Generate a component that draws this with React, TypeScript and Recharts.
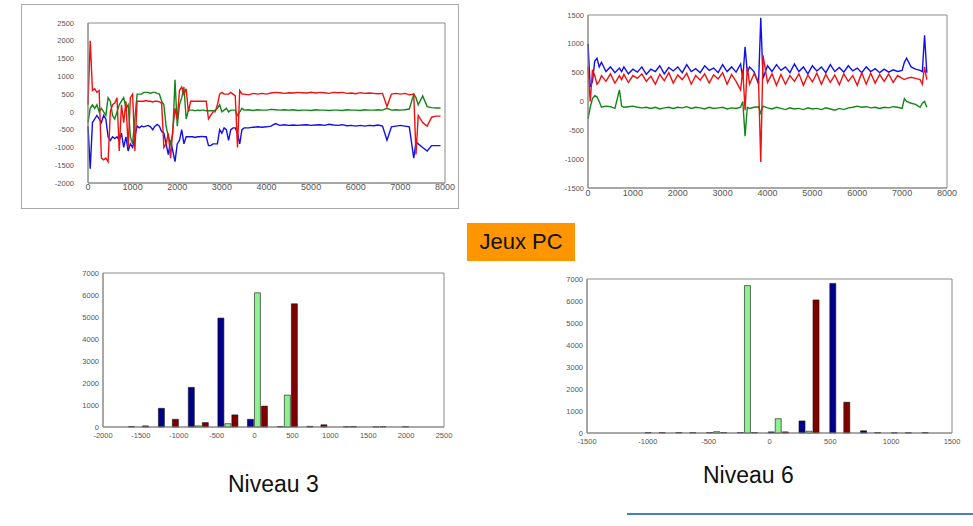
import { Bar, BarChart, Line, LineChart, ReferenceArea, XAxis, YAxis } from 'recharts'

// top left trace (niveau 3)
const TL_X = [
  0, 50, 100, 150, 200, 250, 300, 350, 400, 450,
  500, 550, 600, 650, 700, 750, 800, 850, 900, 950,
  1000, 1050, 1100, 1150, 1200, 1250, 1300, 1350, 1400, 1450,
  1500, 1550, 1600, 1650, 1700, 1750, 1800, 1850, 1900, 1950,
  2000, 2050, 2100, 2150, 2200, 2250, 2300, 2350, 2400, 2450,
  2500, 2550, 2600, 2650, 2700, 2750, 2800, 2850, 2900, 2950,
  3000, 3050, 3100, 3150, 3200, 3250, 3300, 3350, 3400, 3450,
  3500, 3600, 3700, 3800, 3900, 4000, 4100, 4200, 4300, 4400,
  4500, 4600, 4700, 4800, 4900, 5000, 5100, 5200, 5300, 5400,
  5500, 5600, 5700, 5800, 5900, 6000, 6100, 6200, 6300, 6400,
  6500, 6600, 6700, 6800, 6900, 7000, 7100, 7200, 7300, 7350,
  7400, 7500, 7600, 7700, 7800, 7900,
]
const TL_RED = [
  200, 2000, 600, 650, 550, 600, -1300, -1350, -1300, -1400,
  0, 200, 250, 400, -1100, 200, -300, 300, -1000, 400,
  500, -1100, 300, 300, 300, 300, 320, 300, 300, 280,
  300, 300, 280, 250, -1000, -900, -600, -1300, -500, 100,
  -200, 600, 700, 500, 650, 0, 300, 300, 300, 300,
  300, 300, 300, 300, -200, -100, 0, 0, 200, 500,
  550, 500, 500, 500, 550, 500, 450, -1000, 600, 500,
  500, 480, 520, 500, 520, 500, 530, 550, 540, 520,
  540, 530, 550, 540, 530, 550, 530, 550, 540, 520,
  550, 540, 550, 520, 530, 510, 540, 520, 530, 520,
  510, 520, 150, 500, 520, 500, 520, 480, 500, -1200,
  -100, -300, -400, -150, -120, -120,
]
const TL_GREEN = [
  -300, 100, 200, 100, 200, 0, 100, 0, -100, 400,
  300, -100, -200, 0, 200, 300, 400, 100, 200, -700,
  -900, -200, 500, 500, 500, 550, 550, 550, 520, 550,
  550, 520, 500, 300, 200, -400, -700, -900, -600, 900,
  -400, 200, 400, 700, -200, 50, 50, 50, 30, 50,
  40, 50, 50, 30, 30, 30, 30, 50, 100, 200,
  0, 50, 100, 0, 50, 50, 50, -100, 0, 100,
  50, 60, 40, 60, 50, 50, 70, 60, 50, 60,
  50, 60, 40, 50, 50, 40, 60, 50, 50, 40,
  50, 50, 40, 60, 50, 50, 40, 60, 50, 50,
  60, 50, 100, 50, 60, 50, 60, 80, 500, 400,
  200, 450, 150, 120, 110, 110,
]
const TL_BLUE = [
  -400, -1600, -300, -200, -100, -200, -300, -100, -200, -700,
  -800, -700, -750, -700, -800, -600, -1000, -700, -1100, -900,
  -1000, -700, -400, -450, -400, -420, -400, -380, -420, -500,
  -400, -350, -400, -550, -600, -900, -1200, -800, -1100, -1400,
  -900, -800, -500, -900, -700, -700, -700, -700, -720, -700,
  -700, -690, -700, -700, -950, -950, -900, -900, -900, -500,
  -600, -450, -500, -800, -500, -450, -450, -600, -900, -500,
  -450, -450, -430, -420, -430, -420, -400, -330, -380, -360,
  -380, -370, -380, -370, -360, -380, -370, -360, -380, -350,
  -370, -380, -360, -390, -380, -400, -380, -400, -380, -390,
  -370, -400, -800, -420, -400, -380, -400, -420, -1300, -850,
  -900, -1000, -1100, -950, -950, -950,
]

// top right trace (niveau 6)
const TR_X = [
  0, 50, 100, 150, 200, 250, 300, 400, 500, 600,
  700, 750, 800, 900, 1000, 1100, 1200, 1300, 1400, 1500,
  1600, 1700, 1800, 1900, 2000, 2100, 2200, 2300, 2400, 2500,
  2600, 2700, 2800, 2900, 3000, 3100, 3200, 3300, 3400, 3450,
  3500, 3550, 3600, 3700, 3800, 3850, 3900, 4000, 4100, 4200,
  4300, 4400, 4500, 4600, 4700, 4800, 4900, 5000, 5100, 5200,
  5300, 5400, 5500, 5600, 5700, 5800, 5900, 6000, 6100, 6200,
  6300, 6400, 6500, 6600, 6700, 6800, 6900, 7000, 7050, 7100,
  7200, 7300, 7400, 7450, 7500, 7550,
]
const TR_RED = [
  600, 0, 550, 450, 300, 350, 450, 350, 480, 320,
  450, 380, 470, 330, 450, 400, 480, 350, 440, 300,
  470, 360, 500, 320, 460, 380, 490, 300, 450, 370,
  480, 320, 460, 390, 500, 300, 470, 350, 200, 550,
  -150, 600, 300, 480, 350, -1050, 800, 330, 480, 280,
  470, 300, 450, 350, 480, 280, 460, 340, 490, 300,
  470, 330, 460, 290, 480, 350, 450, 280, 500, 300,
  490, 320, 470, 350, 480, 330, 450, 400, 380, 400,
  420, 400, 380, 300, 600, 380,
]
const TR_BLUE = [
  1000, 250, 350, 700, 750, 600, 680, 520, 600, 500,
  580, 520, 600, 480, 560, 510, 600, 470, 560, 520,
  620, 480, 590, 530, 600, 500, 640, 520, 570, 500,
  620, 540, 580, 500, 640, 520, 600, 510, 650, 400,
  950, 500, 600, 520, 300, 1450, 400, 620, 520, 640,
  540, 600, 500, 650, 520, 600, 480, 620, 530, 600,
  500, 640, 520, 590, 510, 620, 530, 580, 500, 600,
  520, 570, 500, 560, 510, 550, 520, 540, 680, 750,
  600, 560, 540, 520, 1150, 500,
]
const TR_GREEN = [
  -300, -100, 50, 100, 80, 0, -100, -80, -90, -120,
  200, -80, -100, -90, -80, -100, -110, -100, -120, -100,
  -130, -110, -100, -120, -100, -110, -90, -120, -100, -110,
  -130, -100, -120, -110, -100, -130, -110, -120, -100, 0,
  -600, -100, -120, -100, -90, -200, -80, -110, -130, -100,
  -120, -140, -110, -130, -120, -140, -110, -130, -120, -140,
  -110, -130, -150, -120, -140, -110, -100, -80, -100, -90,
  -110, -100, -120, -100, -110, -90, -100, -120, 50, 0,
  -30, -50, -100, -30, 0, -100,
]

// histogram niveau 3
const BL_BINS = [-1535, -1140, -745, -355, 35, 430, 820, 1210, 1600, 1990]
const BL_BLUE = [20, 850, 1800, 4950, 350, 20, 30, 0, 0, 0]
const BL_GREEN = [0, 0, 50, 150, 6100, 1450, 0, 20, 10, 20]
const BL_RED = [50, 350, 200, 550, 950, 5600, 100, 20, 20, 0]

// histogram niveau 6
const BR_BINS = [-1190, -937, -684, -431, -178, 75, 328, 581, 834, 1087, 1340]
const BR_BLUE = [0, 20, 20, 20, 20, 50, 550, 6800, 100, 10, 20]
const BR_GREEN = [0, 0, 0, 60, 6700, 650, 80, 0, 0, 0, 0]
const BR_RED = [0, 20, 20, 20, 20, 50, 6050, 1400, 20, 10, 0]

const TIME_TICKS = [0, 1000, 2000, 3000, 4000, 5000, 6000, 7000, 8000]
const TL_Y_TICKS = [-2000, -1500, -1000, -500, 0, 500, 1000, 1500, 2000, 2500]
const TR_Y_TICKS = [-1500, -1000, -500, 0, 500, 1000, 1500]
const BL_X_TICKS = [-2000, -1500, -1000, -500, 0, 500, 1000, 1500, 2000, 2500]
const BR_X_TICKS = [-1500, -1000, -500, 0, 500, 1000, 1500]
const COUNT_TICKS = [0, 1000, 2000, 3000, 4000, 5000, 6000, 7000]

const traceRows = (xs: number[], blue: number[], green: number[], red: number[]) =>
  xs.map((x, i) => ({ x, blue: blue[i], green: green[i], red: red[i] }))

const histRows = (bins: number[], blue: number[], green: number[], red: number[]) =>
  bins.map((bin, i) => ({ bin, blue: blue[i], green: green[i], red: red[i] }))

const AXIS = '#8a8a8a'
const LABEL = { fill: '#555', fontSize: 8 }

type TraceProps = {
  rows: ReturnType<typeof traceRows>
  width: number
  height: number
  margin: { top: number; right: number; bottom: number; left: number }
  yTicks: number[]
  yTickMargin: number
  xTickMargin: number
}

function Trace({ rows, width, height, margin, yTicks, yTickMargin, xTickMargin }: TraceProps) {
  const yDomain = [yTicks[0], yTicks[yTicks.length - 1]]
  return (
    <LineChart width={width} height={height} data={rows} margin={margin}>
      <XAxis
        dataKey="x"
        type="number"
        domain={[0, 8000]}
        ticks={TIME_TICKS}
        interval={0}
        tickLine={false}
        tickSize={0}
        tickMargin={xTickMargin}
        height={20}
        axisLine={{ stroke: AXIS }}
        tick={{ ...LABEL, fontSize: 9 }}
      />
      <YAxis
        type="number"
        domain={yDomain}
        ticks={yTicks}
        interval={0}
        tickLine={false}
        tickSize={0}
        tickMargin={yTickMargin}
        width={40}
        axisLine={{ stroke: AXIS }}
        tick={{ ...LABEL, fontSize: 7.5 }}
      />
      <ReferenceArea x1={0} x2={8000} y1={yDomain[0]} y2={yDomain[1]} fill="none" stroke={AXIS} ifOverflow="visible" />
      <Line dataKey="blue" stroke="#1010ee" strokeWidth={1.4} dot={false} isAnimationActive={false} />
      <Line dataKey="green" stroke="#13861a" strokeWidth={1.4} dot={false} isAnimationActive={false} />
      <Line dataKey="red" stroke="#f01010" strokeWidth={1.4} dot={false} isAnimationActive={false} />
    </LineChart>
  )
}

type HistProps = {
  rows: ReturnType<typeof histRows>
  width: number
  height: number
  margin: { top: number; right: number; bottom: number; left: number }
  xTicks: number[]
}

function Hist({ rows, width, height, margin, xTicks }: HistProps) {
  const xDomain = [xTicks[0], xTicks[xTicks.length - 1]]
  return (
    <BarChart width={width} height={height} data={rows} margin={margin} barSize={6} barGap={1}>
      <XAxis
        dataKey="bin"
        type="number"
        domain={xDomain}
        ticks={xTicks}
        interval={0}
        tickLine={false}
        tickSize={0}
        tickMargin={6}
        height={20}
        axisLine={{ stroke: AXIS }}
        tick={{ ...LABEL, fontSize: 7.5 }}
      />
      <YAxis
        type="number"
        domain={[0, 7000]}
        ticks={COUNT_TICKS}
        interval={0}
        tickLine={false}
        tickSize={0}
        tickMargin={4}
        width={38}
        axisLine={{ stroke: AXIS }}
        tick={{ ...LABEL, fontSize: 7.5 }}
      />
      <ReferenceArea x1={xDomain[0]} x2={xDomain[1]} y1={0} y2={7000} fill="none" stroke={AXIS} ifOverflow="visible" />
      <Bar dataKey="blue" fill="#00008c" stroke="#111" strokeWidth={0.6} isAnimationActive={false} />
      <Bar dataKey="green" fill="#8ef08e" stroke="#111" strokeWidth={0.6} isAnimationActive={false} />
      <Bar dataKey="red" fill="#800000" stroke="#111" strokeWidth={0.6} isAnimationActive={false} />
    </BarChart>
  )
}

export default function App() {
  const font = '"Liberation Sans", Arial, sans-serif'
  return (
    <div style={{ position: 'absolute', left: 0, top: 0, width: 973, height: 526, background: '#fff', fontFamily: font }}>
      <div style={{ position: 'absolute', left: 21, top: 4, width: 436, height: 203, border: '1px solid #a8a8a8' }}>
        <Trace
          rows={traceRows(TL_X, TL_BLUE, TL_GREEN, TL_RED)}
          width={436}
          height={203}
          margin={{ top: 18, right: 13, bottom: 5, left: 26 }}
          yTicks={TL_Y_TICKS}
          yTickMargin={14}
          xTickMargin={1}
        />
      </div>
      <div style={{ position: 'absolute', left: 540, top: 0 }}>
        <Trace
          rows={traceRows(TR_X, TR_BLUE, TR_GREEN, TR_RED)}
          width={427}
          height={210}
          margin={{ top: 15, right: 20, bottom: 2, left: 8 }}
          yTicks={TR_Y_TICKS}
          yTickMargin={4}
          xTickMargin={2}
        />
      </div>
      <div style={{ position: 'absolute', left: 60, top: 260 }}>
        <Hist
          rows={histRows(BL_BINS, BL_BLUE, BL_GREEN, BL_RED)}
          width={394}
          height={189}
          margin={{ top: 13, right: 10, bottom: 2, left: 5 }}
          xTicks={BL_X_TICKS}
        />
      </div>
      <div style={{ position: 'absolute', left: 545, top: 265 }}>
        <Hist
          rows={histRows(BR_BINS, BR_BLUE, BR_GREEN, BR_RED)}
          width={424}
          height={190}
          margin={{ top: 14, right: 17, bottom: 2, left: 4 }}
          xTicks={BR_X_TICKS}
        />
      </div>
      <div
        style={{
          position: 'absolute', left: 467, top: 223, width: 108, height: 38, background: '#ff9600',
          display: 'flex', alignItems: 'center', justifyContent: 'center', fontSize: 22, color: '#111',
        }}
      >
        Jeux PC
      </div>
      <div style={{ position: 'absolute', left: 228, top: 471, fontSize: 23, color: '#111' }}>Niveau 3</div>
      <div style={{ position: 'absolute', left: 703, top: 462, fontSize: 23, color: '#111' }}>Niveau 6</div>
      <div style={{ position: 'absolute', left: 627, top: 513, width: 346, height: 1.5, background: '#4a7ebb' }} />
    </div>
  )
}
